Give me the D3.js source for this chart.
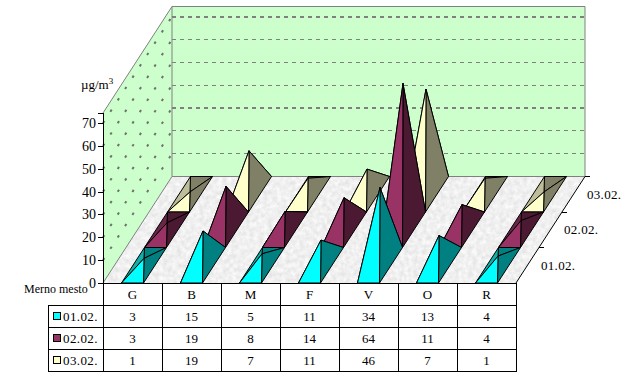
<!DOCTYPE html>
<html>
<head>
<meta charset="utf-8">
<script src="https://cdn.jsdelivr.net/npm/d3@7"></script>
<style>
body { margin:0; background:#fff; }
svg { display:block; }
text { font-family:"Liberation Serif",serif; fill:#000; }
</style>
</head>
<body>
<svg></svg>
<script>
const width = 629;
const height = 378;

var mesta = ["G","B","M","F","V","O","R"];
var datumi = ["01.02.","02.02.","03.02."];
var vals0102 = [3,15,5,11,34,13,4];
var vals0203 = [3,19,8,14,64,11,4];
var vals0302 = [1,19,7,11,46,7,1];
var yTicks = [0,10,20,30,40,50,60,70];
var boje = ["#00ffff","#993366","#ffffcc"];
var bojeDesno = ["#008080","#4c1933","#808066"];
var bojeLevo = ["#12aeaa","#6a2547","#bdbd99"];

var serije = [vals0102, vals0203, vals0302];

var svg = d3.select("svg").attr("width",width).attr("height",height);

// floor is a bit mottled, like the excel marble fill
var defs = svg.append("defs");
var f = defs.append("filter").attr("id","mramor").attr("x",0).attr("y",0).attr("width",1).attr("height",1);
f.append("feTurbulence").attr("type","fractalNoise").attr("baseFrequency",0.22).attr("numOctaves",3).attr("seed",4);
f.append("feColorMatrix").attr("type","matrix")
  .attr("values","0.3 0 0 0 0.72  0.3 0 0 0 0.72  0.3 0 0 0 0.72  0 0 0 0 1");
f.append("feComposite").attr("in2","SourceGraphic").attr("operator","in");

var x0 = 103, y0 = 283, chartW = 413;
var xBand = d3.scaleBand().domain(mesta).range([x0, x0+chartW]).paddingInner(0.627).paddingOuter(0.3135);
var xStep = d3.scaleBand().domain(mesta).range([x0, x0+chartW]);
var yScale = d3.scaleLinear().domain([0,74.4]).range([y0,113]);
// depth goes back and to the right
var zX = d3.scaleLinear().domain([0,3]).range([0,69]);
var zY = d3.scaleLinear().domain([0,3]).range([0,-106.5]);

// x,z in chart space, v = value above the floor
function proj(x,z,v) {
  return [x + zX(z), yScale(v) + zY(z)];
}
var line = d3.line();
function poly(pts) { return line(pts) + "Z"; }

var floorPts = [proj(x0,0,0),proj(x0+chartW,0,0),proj(x0+chartW,3,0),proj(x0,3,0)];
var leftPts = [proj(x0,0,0),proj(x0,3,0),proj(x0,3,74.4),proj(x0,0,74.4)];
var backPts = [proj(x0,3,0),proj(x0+chartW,3,0),proj(x0+chartW,3,74.4),proj(x0,3,74.4)];

svg.append("path").attr("d",poly(floorPts)).attr("fill","#e6e6e6").attr("filter","url(#mramor)");
svg.append("path").attr("d",poly(leftPts)).attr("fill","#ccffcc");
svg.append("path").attr("d",poly(backPts)).attr("fill","#ccffcc");

// gridlines
var gridTicks = yTicks.slice(1);
svg.selectAll(".grid-back").data(gridTicks).enter().append("path")
  .attr("class","grid-back")
  .attr("d",d=>line([proj(x0,3,d),proj(x0+chartW,3,d)]))
  .attr("stroke","#808080")
  .attr("stroke-width",d=>(d==30||d==70)?2:1)
  .attr("stroke-dasharray","4,4")
  .attr("shape-rendering","crispEdges");
svg.selectAll(".grid-left").data(gridTicks).enter().append("path")
  .attr("class","grid-left")
  .attr("d",d=>line([proj(x0,0,d),proj(x0,3,d)]))
  .attr("stroke","#707070")
  .attr("stroke-width",2)
  .attr("stroke-dasharray","2.5,11")
  .attr("fill","none");

// wall borders
[[proj(x0,0,74.4),proj(x0,3,74.4),proj(x0+chartW,3,74.4),proj(x0+chartW,3,0),proj(x0,3,0),proj(x0,3,74.4)],
 [proj(x0,0,0),proj(x0,3,0)]].forEach(p=>{
  svg.append("path").attr("d",line(p)).attr("fill","none").attr("stroke","#808080").attr("stroke-width",1);
});

// pyramids, back series first so the front ones cover them
[2,1,0].forEach(s=>{
  mesta.forEach((m,i)=>{
    var v = serije[s][i];
    var a = xBand(m), b = a + xBand.bandwidth();
    var fl = proj(a,s,0), fr = proj(b,s,0), br = proj(b,s+1,0), bl = proj(a,s+1,0);
    var top = proj((a+b)/2,s+0.5,v);
    var faces = [
      {pts:[bl,br,top], c:bojeDesno[s]},
      {pts:[fl,bl,top], c:bojeLevo[s]},
      {pts:[fr,br,top], c:bojeDesno[s]},
      {pts:[fl,fr,top], c:boje[s]}
    ];
    svg.append("g").selectAll("path").data(faces).enter().append("path")
      .attr("d",d=>poly(d.pts))
      .attr("fill",d=>d.c)
      .attr("stroke","#000")
      .attr("stroke-width",1)
      .attr("stroke-linejoin","round");
  });
});

// value axis
var yAxis = d3.axisLeft(yScale).tickValues(yTicks).tickSize(5).tickPadding(2);
var yG = svg.append("g").attr("class","y-axis").attr("transform","translate("+x0+",0)").call(yAxis);
yG.selectAll("text").style("font-family","'Liberation Serif',serif").style("font-size","14px").attr("fill","#000");
yG.select(".domain").attr("stroke","#000").attr("shape-rendering","crispEdges");
yG.selectAll("line").attr("stroke","#000").attr("shape-rendering","crispEdges");

svg.append("path").attr("d",line([proj(x0+chartW,0,0),proj(x0+chartW,3,0)])).attr("stroke","#000").attr("fill","none");

// depth ticks and labels
datumi.forEach((d,i)=>{
  var p = proj(x0+chartW,i+1,0);
  svg.append("path").attr("d",line([p,[p[0]+5,p[1]]])).attr("stroke","#000").attr("shape-rendering","crispEdges");
  svg.append("text").attr("x",p[0]+2).attr("y",p[1]+22).attr("font-size",13).attr("letter-spacing",0.3).text(d);
});

// data table under the chart
var rowY = d3.scaleLinear().domain([0,4]).range([283,371.5]);
var tableLeft = 48.5;
var tbl = svg.append("g").attr("shape-rendering","crispEdges").attr("stroke","#000").attr("fill","none");
var colXs = mesta.map(m=>xStep(m)).concat([x0+chartW]);
colXs.forEach(x=>{
  tbl.append("path").attr("d",line([[x,rowY(0)],[x,rowY(4)]]));
});
tbl.append("path").attr("d",line([[tableLeft,rowY(1)],[tableLeft,rowY(4)]]));
d3.range(5).forEach(r=>{
  tbl.append("path").attr("d",line([[r==0?x0:tableLeft,rowY(r)],[x0+chartW,rowY(r)]]));
});

svg.selectAll(".cat").data(mesta).enter().append("text")
  .attr("class","cat")
  .attr("x",d=>xStep(d)+xStep.bandwidth()/2)
  .attr("y",rowY(0.5)+4.5)
  .attr("text-anchor","middle")
  .attr("font-size",13)
  .text(d=>d);

serije.forEach((vals,s)=>{
  svg.selectAll(".v"+s).data(vals).enter().append("text")
    .attr("class","v"+s)
    .attr("x",(d,i)=>xStep(mesta[i])+xStep.bandwidth()/2)
    .attr("y",rowY(s+1.5)+4.5)
    .attr("text-anchor","middle")
    .attr("font-size",13)
    .text(d=>d);
  svg.append("rect")
    .attr("x",53).attr("y",rowY(s+1.5)-4)
    .attr("width",7.5).attr("height",7.5)
    .attr("fill",boje[s]).attr("stroke","#000").attr("stroke-width",1)
    .attr("shape-rendering","crispEdges");
  svg.append("text")
    .attr("x",63).attr("y",rowY(s+1.5)+4.5)
    .attr("font-size",13).attr("letter-spacing",0.4)
    .text(datumi[s]);
});

svg.append("text").attr("x",24).attr("y",293).attr("font-size",12).text("Merno mesto");

var jed = svg.append("text").attr("x",81).attr("y",89).attr("font-size",13);
jed.append("tspan").text("µg/m");
jed.append("tspan").attr("dy",-5).attr("font-size",9).text("3");
</script>
</body>
</html>
